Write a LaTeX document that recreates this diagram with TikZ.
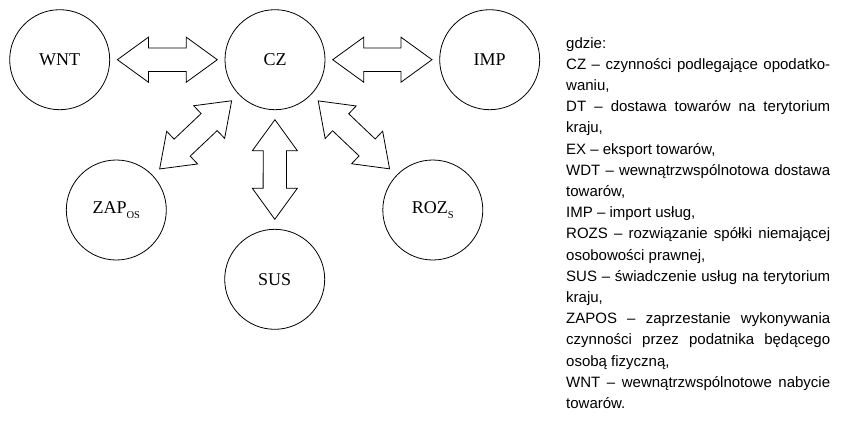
\documentclass[tikz,border=0pt]{standalone}
\usepackage{fontspec}
\setmainfont{Liberation Serif}
\newfontfamily\legendfont{Liberation Sans}
\usetikzlibrary{calc}

\tikzset{
  stage/.style={draw, circle, line width=0.8pt, minimum size=100pt, inner sep=0pt, font=\fontsize{18}{20}\selectfont},
  fatarrow/.style={draw, line width=0.8pt, fill=white, line join=miter},
}

\newcommand{\sub}[1]{\raisebox{-5pt}{\fontsize{10.5}{10.5}\selectfont #1}}

% hollow two-headed arrow between two nodes: #1, #2 nodes, #3 tip distance from centres
\newcommand{\twoway}[3]{%
  \coordinate (ta) at ($(#1)!#3!(#2)$);
  \coordinate (tb) at ($(#2)!#3!(#1)$);
  \coordinate (ha) at ($(ta)!31pt!(tb)$);
  \coordinate (hb) at ($(tb)!31pt!(ta)$);
  \draw[fatarrow] (ta) -- ($(ha)!22.5pt!90:(tb)$) -- ($(ha)!11.7pt!90:(tb)$)
    -- ($(hb)!11.7pt!-90:(ta)$) -- ($(hb)!22.5pt!-90:(ta)$) -- (tb)
    -- ($(hb)!22.5pt!90:(ta)$) -- ($(hb)!11.7pt!90:(ta)$)
    -- ($(ha)!11.7pt!-90:(tb)$) -- ($(ha)!22.5pt!-90:(tb)$) -- cycle;
}

\begin{document}
\begin{tikzpicture}[x=1pt, y=-1pt]
  \useasboundingbox (0,0) rectangle (842,426);

  \node[stage] (WNT) at (59.7,59.7) {WNT};
  \node[stage] (CZ) at (275,59.7) {CZ};
  \node[stage] (IMP) at (489.7,59.7) {IMP};
  \node[stage] (ZAP) at (116.3,210) {ZAP\sub{OS}};
  \node[stage] (ROZ) at (432.8,210) {ROZ\sub{S}};
  \node[stage] (SUS) at (274.7,279.3) {SUS};

  \twoway{WNT}{CZ}{57.7pt}
  \twoway{CZ}{IMP}{57.7pt}
  \twoway{CZ}{ZAP}{59.7pt}
  \twoway{CZ}{ROZ}{59.7pt}
  \twoway{CZ}{SUS}{60pt}

  \node[anchor=north west, inner sep=0pt, text width=264pt, align=justify,
        font=\legendfont\fontsize{15}{21.2}\selectfont] (legend) at (566,37) {%
    gdzie:\\
    CZ – czynności podlegające opodatko-\linebreak
    waniu,\\
    DT – dostawa towarów na terytorium\linebreak
    kraju,\\
    EX – eksport towarów,\\
    WDT – wewnątrzwspólnotowa dostawa\linebreak
    towarów,\\
    IMP – import usług,\\
    ROZS – rozwiązanie spółki niemającej\linebreak
    osobowości prawnej,\\
    SUS – świadczenie usług na terytorium\linebreak
    kraju,\\
    ZAPOS – zaprzestanie wykonywania\linebreak
    czynności przez podatnika będącego\linebreak
    osobą fizyczną,\\
    WNT – wewnątrzwspólnotowe nabycie\linebreak
    towarów.};
\end{tikzpicture}
\end{document}
